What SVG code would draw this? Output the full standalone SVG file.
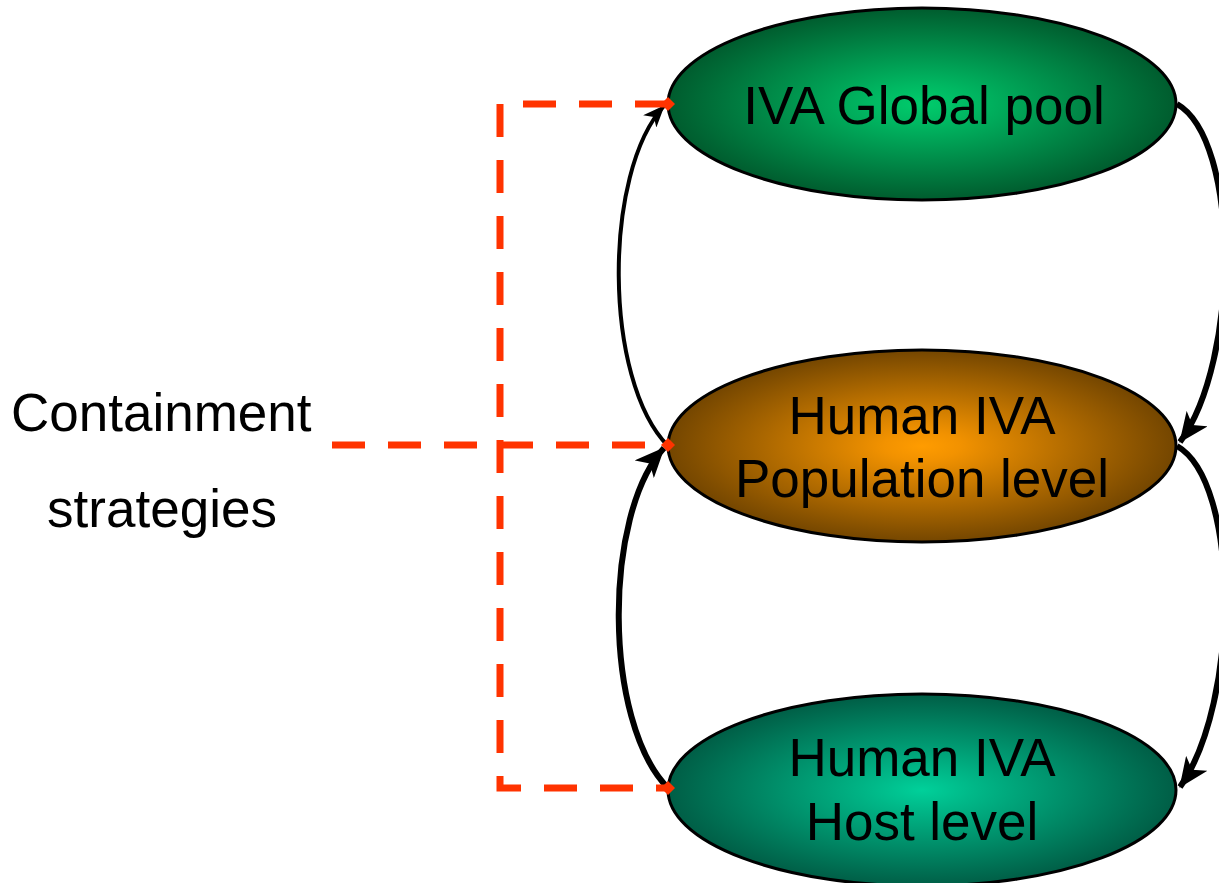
<svg xmlns="http://www.w3.org/2000/svg" width="1219" height="883" viewBox="0 0 1219 883">
  <style>
    .lbl { font-family: "Liberation Sans", Arial, sans-serif; font-size: 53px; fill: #000; }
    .node ellipse { stroke: #000; stroke-width: 3; }
    .flow { fill: none; stroke: #000; }
    .ctrl { fill: none; stroke: #ff3300; stroke-width: 7; stroke-dasharray: 33 23; }
  </style>
  <defs>
    <radialGradient id="gGlobal" cx="0.5" cy="0.5" r="0.5">
      <stop offset="0" stop-color="#00cc6c"/>
      <stop offset="0.2" stop-color="#00b862"/>
      <stop offset="1" stop-color="#005c2e"/>
    </radialGradient>
    <radialGradient id="gPop" cx="0.5" cy="0.5" r="0.5">
      <stop offset="0" stop-color="#ff9c00"/>
      <stop offset="0.15" stop-color="#f29200"/>
      <stop offset="1" stop-color="#744600"/>
    </radialGradient>
    <radialGradient id="gHost" cx="0.5" cy="0.5" r="0.5">
      <stop offset="0" stop-color="#00d09a"/>
      <stop offset="0.2" stop-color="#00b888"/>
      <stop offset="1" stop-color="#005e46"/>
    </radialGradient>
    <marker id="arrow" viewBox="0 0 30 26" refX="29" refY="13" markerWidth="30" markerHeight="26" markerUnits="userSpaceOnUse" orient="auto">
      <path d="M0,0 L30,13 L0,26 L8,13 Z" fill="#000"/>
    </marker>
    <marker id="arrowS" viewBox="0 0 22 18" refX="21" refY="9" markerWidth="22" markerHeight="18" markerUnits="userSpaceOnUse" orient="auto">
      <path d="M0,0 L22,9 L0,18 L6,9 Z" fill="#000"/>
    </marker>
  </defs>

  <g id="nodes">
    <g id="global-pool" class="node">
      <ellipse cx="922" cy="104" rx="254" ry="96" fill="url(#gGlobal)"/>
      <text class="lbl" x="924" y="124" text-anchor="middle">IVA Global pool</text>
    </g>
    <g id="population-level" class="node">
      <ellipse cx="922" cy="446" rx="254" ry="96" fill="url(#gPop)"/>
      <text class="lbl" x="922" y="434" text-anchor="middle">Human IVA</text>
      <text class="lbl" x="922" y="497" text-anchor="middle">Population level</text>
    </g>
    <g id="host-level" class="node">
      <ellipse cx="922" cy="790" rx="254" ry="96" fill="url(#gHost)"/>
      <text class="lbl" x="922" y="776" text-anchor="middle">Human IVA</text>
      <text class="lbl" x="922" y="840" text-anchor="middle">Host level</text>
    </g>
  </g>

  <!-- flows between levels -->
  <g id="connectors">
    <path class="flow" stroke-width="4" d="M668,446 C603,380 603,172 664,106" marker-end="url(#arrowS)"/>
    <path class="flow" stroke-width="6" d="M668,788 C603,722 603,514 664,448" marker-end="url(#arrow)"/>
    <path class="flow" stroke-width="6" d="M1177,104 C1240,140 1240,360 1180,442" marker-end="url(#arrow)"/>
    <path class="flow" stroke-width="6" d="M1177,446 C1240,482 1240,702 1180,787" marker-end="url(#arrow)"/>
  </g>

  <!-- containment strategies acting on each level -->
  <g id="containment">
    <text class="lbl" x="11" y="431">Containment</text>
    <text class="lbl" x="162" y="527" text-anchor="middle">strategies</text>
    <path class="ctrl" d="M668,104 L500,104 L500,788 L668,788"/>
    <path class="ctrl" d="M332,445 L668,445"/>
    <g fill="#ff3300">
      <path d="M668,97 L675,104 L668,111 L661,104 Z"/>
      <path d="M668,438 L675,445 L668,452 L661,445 Z"/>
      <path d="M668,781 L675,788 L668,795 L661,788 Z"/>
    </g>
  </g>
</svg>
